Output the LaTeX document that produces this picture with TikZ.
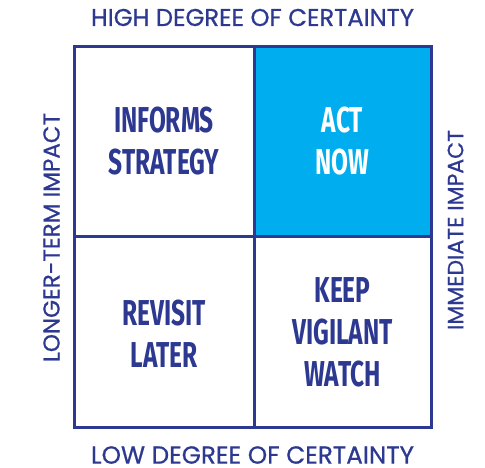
\documentclass[tikz,border=0pt]{standalone}
\usepackage{fontspec}
\usepackage{graphicx}
\setmainfont{Poppins}
\newfontfamily\labelfont{Poppins}[FakeBold=0.7]
\newfontfamily\condfont{Fira Sans}[FakeStretch=0.68]
\definecolor{navy}{RGB}{45,57,145}
\definecolor{sky}{RGB}{0,174,239}
\tikzset{
  gridline/.style={draw=navy, line width=3pt},
  axislabel/.style={text=navy, inner sep=0pt, font=\labelfont},
  quadtext/.style={font=\condfont\bfseries\fontsize{36}{42}\selectfont, align=center, inner sep=0pt},
}
\begin{document}
\begin{tikzpicture}[x=1pt,y=-1pt]
\useasboundingbox (0,0) rectangle (485,467);
% quadrant frame
\fill[sky] (254,46) rectangle (431,236);
\draw[gridline] (74,46) rectangle (431,427);
\draw[gridline] (254,46) -- (254,427);
\draw[gridline] (74,236) -- (431,236);
% axis labels
\node[axislabel] (top) at (252.5,17.5) {\resizebox{323pt}{!}{HIGH DEGREE OF CERTAINTY}};
\node[axislabel] (bottom) at (252.5,455) {\resizebox{323pt}{!}{LOW DEGREE OF CERTAINTY}};
\node[axislabel, rotate=90] (left) at (51.5,237.5) {\resizebox{249pt}{!}{LONGER-TERM IMPACT}};
\node[axislabel, rotate=90] (right) at (455.5,230) {\resizebox{200pt}{!}{IMMEDIATE IMPACT}};
% quadrant labels
\node[quadtext, text=navy] (informs) at (164,141) {INFORMS\\STRATEGY};
\node[quadtext, text=white] (act) at (342.5,141) {ACT\\NOW};
\node[quadtext, text=navy] (revisit) at (164,334) {REVISIT\\LATER};
\node[quadtext, text=navy] (keep) at (342.5,332) {KEEP\\VIGILANT\\WATCH};
\end{tikzpicture}
\end{document}
